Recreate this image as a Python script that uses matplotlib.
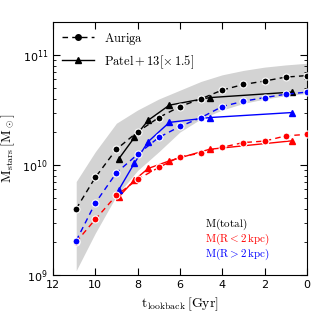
import numpy as np
import matplotlib
matplotlib.use('Agg')
from matplotlib import pyplot as plt

# Auriga (median) stellar mass vs lookback time
t_aur = [10.9, 10.0, 9.0, 8.0, 7.0, 6.0, 5.0, 4.0, 3.0, 2.0, 1.0, 0.0]
m_aur_tot = [4.0e9, 7.7e9, 1.39e10, 2.0e10, 2.7e10, 3.4e10, 4.0e10, 4.8e10, 5.4e10, 5.8e10, 6.3e10, 6.5e10]
m_aur_in = [2.0e9, 3.2e9, 5.3e9, 7.4e9, 9.5e9, 1.19e10, 1.28e10, 1.45e10, 1.6e10, 1.65e10, 1.84e10, 1.9e10]
m_aur_out = [2.05e9, 4.5e9, 8.5e9, 1.25e10, 1.78e10, 2.24e10, 2.7e10, 3.4e10, 3.8e10, 4.1e10, 4.4e10, 4.6e10]

# spread of Auriga total mass (log10)
band_t = [10.9, 10.0, 9.0, 8.0, 7.0, 6.0, 5.0, 4.0, 3.0, 2.0, 1.0, 0.0]
band_lo = [9.04, 9.38, 9.72, 9.95, 10.12, 10.3, 10.42, 10.5, 10.56, 10.6, 10.63, 10.65]
band_hi = [9.85, 10.12, 10.38, 10.5, 10.6, 10.68, 10.76, 10.82, 10.86, 10.89, 10.91, 10.925]

# Patel+13 (x1.5)
t_pat = [8.9, 8.15, 7.5, 6.5, 4.6, 0.7]
m_pat_tot = [1.13e10, 1.78e10, 2.55e10, 3.5e10, 4.1e10, 4.6e10]
m_pat_in = [5.1e9, 7.3e9, 9.3e9, 1.09e10, 1.39e10, 1.66e10]
m_pat_out = [5.9e9, 1.04e10, 1.63e10, 2.44e10, 2.7e10, 3.0e10]

labels = [r'$\mathrm{M(total)}$', r'$\mathrm{M(R<2\,kpc)}$', r'$\mathrm{M(R>2\,kpc)}$']
colors = ['black', 'red', 'blue']

plt.rcParams['font.size'] = 8
plt.rcParams['mathtext.fontset'] = 'dejavusans'

fig = plt.figure(figsize=(3.17, 3.17), dpi=100)
ax = fig.add_axes([0.167, 0.1325, 0.801, 0.798])

ax.fill_between(band_t, 10**np.array(band_lo), 10**np.array(band_hi),
                color='#d3d3d3', lw=0, zorder=0)

aur = [m_aur_tot, m_aur_in, m_aur_out]
pat = [m_pat_tot, m_pat_in, m_pat_out]
for m_a, m_p, c in zip(aur, pat, colors):
    ax.plot(t_aur, m_a, ls='--', color=c, lw=1, marker='o', ms=5,
            mec='white', mew=0.8, dashes=(4, 3), zorder=3)
    ax.plot(t_pat, m_p, ls='-', color=c, lw=1, marker='^', ms=5, zorder=2)

# legend handles
ax.plot([], [], ls='--', color='black', lw=1, marker='o', ms=4, dashes=(4, 3),
        label=r'$\mathrm{Auriga}$')
ax.plot([], [], ls='-', color='black', lw=1, marker='^', ms=5,
        label=r'$\mathrm{Patel+13[\times\,1.5]}$')
leg = ax.legend(loc='upper left', frameon=False, fontsize=9, handlelength=2.6,
                borderaxespad=0.3, labelspacing=0.5)
for txt in leg.get_texts():
    txt.set_math_fontfamily('cm')

for i, (lab, c) in enumerate(zip(labels, colors)):
    ax.text(0.6, 0.2 - i * 0.06, lab, color=c, transform=ax.transAxes,
            fontsize=8, math_fontfamily='cm', va='center')

ax.set_yscale('log')
ax.set_xlim(12, 0)
ax.set_ylim(1e9, 10**11.3)
ax.set_xticks([12, 10, 8, 6, 4, 2, 0])
ax.tick_params(which='both', direction='in', top=True, right=True)
ax.tick_params(which='major', length=5)
ax.tick_params(which='minor', length=2.5)

ax.set_xlabel(r'$\mathrm{t_{lookback}\,[Gyr]}$', fontsize=10, math_fontfamily='cm')
ax.set_ylabel(r'$\mathrm{M_{stars}\,[M_\odot]}$', fontsize=10, math_fontfamily='cm')

fig.savefig('out.png', dpi=100)
